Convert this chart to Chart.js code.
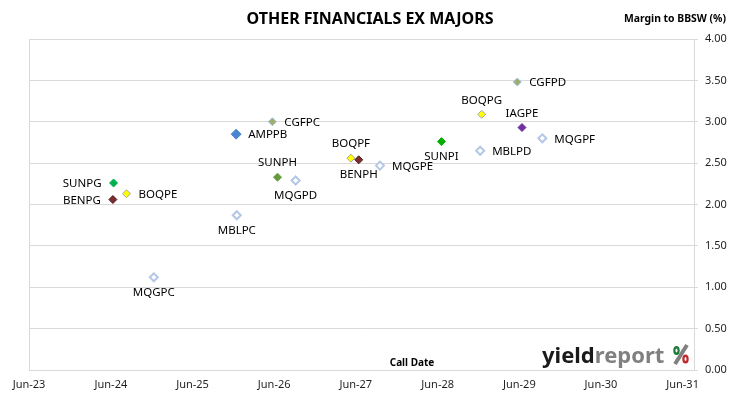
<!DOCTYPE html>
<html>
<head>
<meta charset="utf-8">
<title>Other Financials ex Majors</title>
<script src="https://cdn.jsdelivr.net/npm/chart.js@4.4.1/dist/chart.umd.min.js"></script>
<style>
    html, body { margin: 0; padding: 0; background: #ffffff; }
    #wrap { position: relative; width: 730px; height: 399px; }
</style>
</head>
<body>
<div id="wrap"><canvas id="chart" width="730" height="399"></canvas></div>
<script>
// --- Data ---
const securities = ['SUNPG', 'BENPG', 'BOQPE', 'MQGPC', 'MBLPC', 'AMPPB', 'CGFPC', 'SUNPH', 'MQGPD',
    'BOQPF', 'BENPH', 'MQGPE', 'SUNPI', 'MBLPD', 'BOQPG', 'CGFPD', 'IAGPE', 'MQGPF'];
const callDates = ['2024-06-13', '2024-06-10', '2024-08-10', '2024-12-10', '2025-12-16', '2025-12-13',
    '2026-05-24', '2026-06-16', '2026-09-05', '2027-05-10', '2027-06-14', '2027-09-17',
    '2028-06-18', '2028-12-08', '2028-12-15', '2029-05-23', '2029-06-13', '2029-09-12'];
const margins = [2.26, 2.06, 2.13, 1.12, 1.87, 2.85, 3.00, 2.33, 2.29,
    2.56, 2.54, 2.47, 2.76, 2.65, 3.09, 3.48, 2.93, 2.80];
const xTickDates = ['2023-06-01', '2024-06-01', '2025-06-01', '2026-06-01', '2027-06-01',
    '2028-06-01', '2029-06-01', '2030-06-01', '2031-06-01'];
const xTickLabels = ['Jun-23', 'Jun-24', 'Jun-25', 'Jun-26', 'Jun-27', 'Jun-28', 'Jun-29', 'Jun-30', 'Jun-31'];

// --- Styles ---
const hollow = { fill: '#ffffff', border: '#b4c7e7', width: 2 };
const markerStyle = {
    SUNPG: { fill: '#00b050', border: '#00b050', width: 1 },
    SUNPH: { fill: '#639a3c', border: '#639a3c', width: 1 },
    SUNPI: { fill: '#00b000', border: '#00b000', width: 1 },
    BENPG: { fill: '#7b2c2c', border: '#4e1c1c', width: 1 },
    BENPH: { fill: '#7b2c2c', border: '#4e1c1c', width: 1 },
    BOQPE: { fill: '#ffff00', border: '#a6a6a6', width: 1 },
    BOQPF: { fill: '#ffff00', border: '#a6a6a6', width: 1 },
    BOQPG: { fill: '#ffff00', border: '#a6a6a6', width: 1 },
    CGFPC: { fill: '#a0ad6c', border: '#9dc3e6', width: 1 },
    CGFPD: { fill: '#a0ad6c', border: '#9dc3e6', width: 1 },
    AMPPB: { fill: '#4a86cf', border: '#4a86cf', width: 1, radius: 5 },
    IAGPE: { fill: '#7030a0', border: '#7030a0', width: 1 }
};
const labelSide = {
    SUNPG: 'left', BENPG: 'left', BOQPE: 'right', MQGPC: 'below', MBLPC: 'below', AMPPB: 'right',
    CGFPC: 'right', SUNPH: 'above', MQGPD: 'below', BOQPF: 'above', BENPH: 'below', MQGPE: 'right',
    SUNPI: 'below', MBLPD: 'right', BOQPG: 'above', CGFPD: 'right', IAGPE: 'above', MQGPF: 'right'
};
const styleOf = name => markerStyle[name] || hollow;
const FONT = '"Noto Sans", "Open Sans", sans-serif';

// --- Plugins ---
const pointLabels = {
    id: 'pointLabels',
    afterDatasetsDraw(chart) {
        const ctx = chart.ctx;
        const meta = chart.getDatasetMeta(0);
        ctx.save();
        ctx.font = '11.5px ' + FONT;
        ctx.fillStyle = '#000000';
        meta.data.forEach((pt, i) => {
            const name = securities[i];
            const side = labelSide[name];
            let x = pt.x, y = pt.y;
            ctx.textBaseline = 'middle';
            if (side === 'left') { ctx.textAlign = 'right'; x -= 12; }
            else if (side === 'right') { ctx.textAlign = 'left'; x += 12; }
            else if (side === 'above') { ctx.textAlign = 'center'; y -= 15; }
            else { ctx.textAlign = 'center'; y += 14; }
            ctx.fillText(name, x, y + 1);
        });
        ctx.restore();
    }
};

const decorations = {
    id: 'decorations',
    beforeDatasetsDraw(chart) {
        const { ctx, chartArea } = chart;
        // plot area left border
        ctx.save();
        ctx.strokeStyle = '#d9d9d9';
        ctx.lineWidth = 1;
        ctx.beginPath();
        ctx.moveTo(chartArea.left + 0.5, chartArea.top);
        ctx.lineTo(chartArea.left + 0.5, chartArea.bottom);
        ctx.stroke();
        ctx.restore();
    },
    afterDraw(chart) {
        const { ctx, chartArea } = chart;
        ctx.save();
        ctx.fillStyle = '#000000';
        ctx.textBaseline = 'middle';

        ctx.font = 'bold 16px ' + FONT;
        ctx.textAlign = 'center';
        ctx.fillText('OTHER FINANCIALS EX MAJORS', 370, 19);

        ctx.font = 'bold 10.4px ' + FONT;
        ctx.textAlign = 'right';
        ctx.fillText('Margin to BBSW (%)', 726, 19);

        ctx.font = 'bold 10px ' + FONT;
        ctx.textAlign = 'center';
        ctx.fillText('Call Date', 412, chartArea.bottom - 7);

        // yieldreport logo
        ctx.font = 'bold 22px ' + FONT;
        ctx.textAlign = 'left';
        ctx.textBaseline = 'alphabetic';
        ctx.fillStyle = '#1a1a1a';
        ctx.fillText('yield', 542, 363);
        const w = ctx.measureText('yield').width;
        ctx.fillStyle = '#808080';
        ctx.fillText('report', 542 + w, 363);

        ctx.strokeStyle = '#808080';
        ctx.lineWidth = 4;
        ctx.beginPath();
        ctx.moveTo(687, 345);
        ctx.lineTo(675, 364);
        ctx.stroke();
        [[676.5, 350.5, '#1e7a3a'], [685.5, 359, '#c0282d']].forEach(([cx, cy, c]) => {
            ctx.fillStyle = c;
            ctx.beginPath();
            ctx.ellipse(cx, cy, 3.2, 4.5, 0, 0, Math.PI * 2);
            ctx.fill();
            ctx.fillStyle = '#ffffff';
            ctx.beginPath();
            ctx.ellipse(cx, cy, 1, 2, 0, 0, Math.PI * 2);
            ctx.fill();
        });
        ctx.restore();
    }
};

// --- Chart ---
const ctx = document.getElementById('chart').getContext('2d');
new Chart(ctx, {
    type: 'scatter',
    data: {
        datasets: [{
            data: securities.map((s, i) => ({ x: Date.parse(callDates[i]), y: margins[i] })),
            pointStyle: 'rectRot',
            pointRadius: securities.map(s => styleOf(s).radius || 4),
            backgroundColor: securities.map(s => styleOf(s).fill),
            borderColor: securities.map(s => styleOf(s).border),
            borderWidth: securities.map(s => styleOf(s).width)
        }]
    },
    options: {
        responsive: false,
        animation: false,
        events: [],
        layout: { padding: { left: 29, top: 39, right: 0, bottom: 0 } },
        plugins: {
            legend: { display: false },
            tooltip: { enabled: false }
        },
        scales: {
            x: {
                type: 'linear',
                min: Date.parse('2023-06-01'),
                max: Date.parse('2031-07-22'),
                grid: { display: false, drawTicks: false },
                border: { display: true, color: '#d9d9d9' },
                afterBuildTicks: scale => {
                    scale.ticks = xTickDates.map(d => ({ value: Date.parse(d) }));
                },
                afterFit: scale => { scale.height = 29; },
                ticks: {
                    autoSkip: false,
                    maxRotation: 0,
                    padding: 8,
                    color: '#1f1f1f',
                    font: { family: FONT, size: 11 },
                    callback: (v, i) => xTickLabels[i]
                }
            },
            y: {
                position: 'right',
                min: 0,
                max: 4,
                grid: { color: '#d9d9d9', tickLength: 4 },
                border: { display: true, color: '#d9d9d9' },
                afterFit: scale => { scale.width = 36; },
                ticks: {
                    stepSize: 0.5,
                    padding: 7,
                    color: '#1f1f1f',
                    font: { family: FONT, size: 11 },
                    callback: v => v.toFixed(2)
                }
            }
        }
    },
    plugins: [decorations, pointLabels]
});
</script>
</body>
</html>
